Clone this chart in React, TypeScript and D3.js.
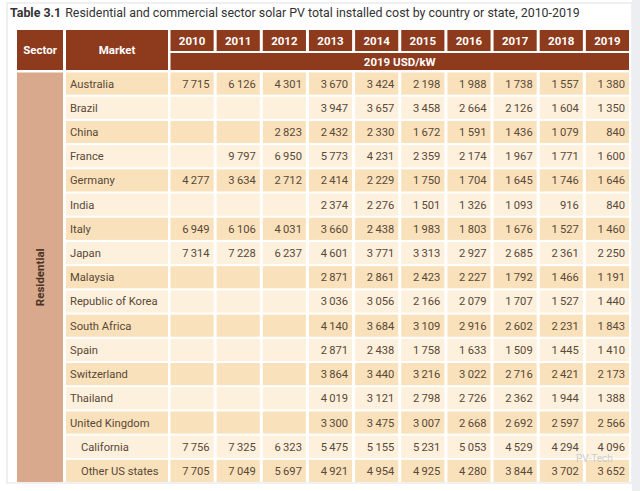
import React from "react";
import * as d3 from "d3";

const years = ["2010", "2011", "2012", "2013", "2014", "2015", "2016", "2017", "2018", "2019"];
const markets = [
  "Australia", "Brazil", "China", "France", "Germany", "India", "Italy", "Japan", "Malaysia",
  "Republic of Korea", "South Africa", "Spain", "Switzerland", "Thailand", "United Kingdom",
  "California", "Other US states",
];
const indented = ["California", "Other US states"];
const N = null;
const costs: (number | null)[][] = [
  [7715, 6126, 4301, 3670, 3424, 2198, 1988, 1738, 1557, 1380],
  [N, N, N, 3947, 3657, 3458, 2664, 2126, 1604, 1350],
  [N, N, 2823, 2432, 2330, 1672, 1591, 1436, 1079, 840],
  [N, 9797, 6950, 5773, 4231, 2359, 2174, 1967, 1771, 1600],
  [4277, 3634, 2712, 2414, 2229, 1750, 1704, 1645, 1746, 1646],
  [N, N, N, 2374, 2276, 1501, 1326, 1093, 916, 840],
  [6949, 6106, 4031, 3660, 2438, 1983, 1803, 1676, 1527, 1460],
  [7314, 7228, 6237, 4601, 3771, 3313, 2927, 2685, 2361, 2250],
  [N, N, N, 2871, 2861, 2423, 2227, 1792, 1466, 1191],
  [N, N, N, 3036, 3056, 2166, 2079, 1707, 1527, 1440],
  [N, N, N, 4140, 3684, 3109, 2916, 2602, 2231, 1843],
  [N, N, N, 2871, 2438, 1758, 1633, 1509, 1445, 1410],
  [N, N, N, 3864, 3440, 3216, 3022, 2716, 2421, 2173],
  [N, N, N, 4019, 3121, 2798, 2726, 2362, 1944, 1388],
  [N, N, N, 3300, 3475, 3007, 2668, 2692, 2597, 2566],
  [7756, 7325, 6323, 5475, 5155, 5231, 5053, 4529, 4294, 4096],
  [7705, 7049, 5697, 4921, 4954, 4925, 4280, 3844, 3702, 3652],
];
const titleBold = "Table 3.1";
const titleText = "Residential and commercial sector solar PV total installed cost by country or state, 2010-2019";
const unitLabel = "2019 USD/kW";
const sectorLabel = "Residential";
const watermark = "PV-Tech";

const HEAD = "#8d3a1d";
const DARK = "#f9e1bb";
const LIGHT = "#fdf0dc";
const SECTOR = "#d8a98d";
const TXT = "#5a4838";
const FONT = "Roboto, 'Open Sans', sans-serif";

const fmt = (v: number) => {
  const s = String(v);
  return s.length > 3 ? s.slice(0, s.length - 3) + "\u2009" + s.slice(-3) : s;
};

export default function App() {
  const x = d3.scaleBand<string>().domain(years).range([170.5, 629]).paddingInner(0.065).paddingOuter(0);
  const y = d3.scaleBand<string>().domain(markets).range([72.5, 482]).paddingInner(0.085).paddingOuter(0);
  const bw = x.bandwidth();
  const bh = y.bandwidth();
  const xL = x(years[0])!;
  const xR = x(years[years.length - 1])! + bw;

  return (
    <svg width={640} height={491} style={{ position: "absolute", left: 0, top: 0, background: "#fff" }} fontFamily={FONT}>
      <rect x={0} y={0} width={640} height={491} fill="#fff" />
      <rect x={7} y={3} width={625} height={480} fill="#fff" stroke="#e2e2e2" strokeWidth={1} />
      <rect x={632} y={0} width={8} height={491} fill="#eceef2" />
      <text x={10} y={17} fontSize={12.4} fill="#333">
        <tspan fontWeight="bold">{titleBold}</tspan>
        <tspan dx={4}>{titleText}</tspan>
      </text>
      {/* header */}
      <rect x={17} y={30} width={46} height={40} fill={HEAD} />
      <text x={40} y={54} fontSize={11.5} fontWeight="bold" fill="#fff" textAnchor="middle">Sector</text>
      <rect x={66} y={30} width={102} height={40} fill={HEAD} />
      <text x={117} y={54} fontSize={11.5} fontWeight="bold" fill="#fff" textAnchor="middle">Market</text>
      {years.map((yr) => (
        <g key={yr}>
          <rect x={x(yr)} y={30} width={bw} height={21} fill={HEAD} />
          <text x={x(yr)! + bw / 2} y={45} fontSize={11.5} fontWeight="bold" fill="#fff" textAnchor="middle">{yr}</text>
        </g>
      ))}
      <rect x={xL} y={53} width={xR - xL} height={17} fill={HEAD} />
      <text x={(xL + xR) / 2} y={65.5} fontSize={11.5} fontWeight="bold" fill="#fff" textAnchor="middle">{unitLabel}</text>
      {/* sector column */}
      <rect x={17} y={y(markets[0])} width={46} height={482 - y(markets[0])!} fill={SECTOR} />
      <text
        transform={`translate(44, ${(y(markets[0])! + 482) / 2}) rotate(-90)`}
        fontSize={11.5} fontWeight="bold" fill="#4a3326" textAnchor="middle"
      >{sectorLabel}</text>
      {markets.map((m, i) => {
        const fill = i % 2 === 0 ? DARK : LIGHT;
        const yy = y(m)!;
        return (
          <g key={m}>
            <rect x={66} y={yy} width={102} height={bh} fill={fill} />
            <text x={indented.includes(m) ? 81 : 70} y={yy + bh / 2 + 4} fontSize={11.2} fill={TXT}>{m}</text>
            {years.map((yr, j) => {
              const v = costs[i][j];
              return (
                <g key={yr}>
                  <rect x={x(yr)} y={yy} width={bw} height={bh} fill={fill} />
                  {v != null && (
                    <text x={x(yr)! + bw - 4} y={yy + bh / 2 + 4} fontSize={11.2} fill={TXT} textAnchor="end">{fmt(v)}</text>
                  )}
                </g>
              );
            })}
          </g>
        );
      })}
      <text x={576} y={462} fontSize={10} fill="#c4c8cf" opacity={0.85}>{watermark}</text>
    </svg>
  );
}
